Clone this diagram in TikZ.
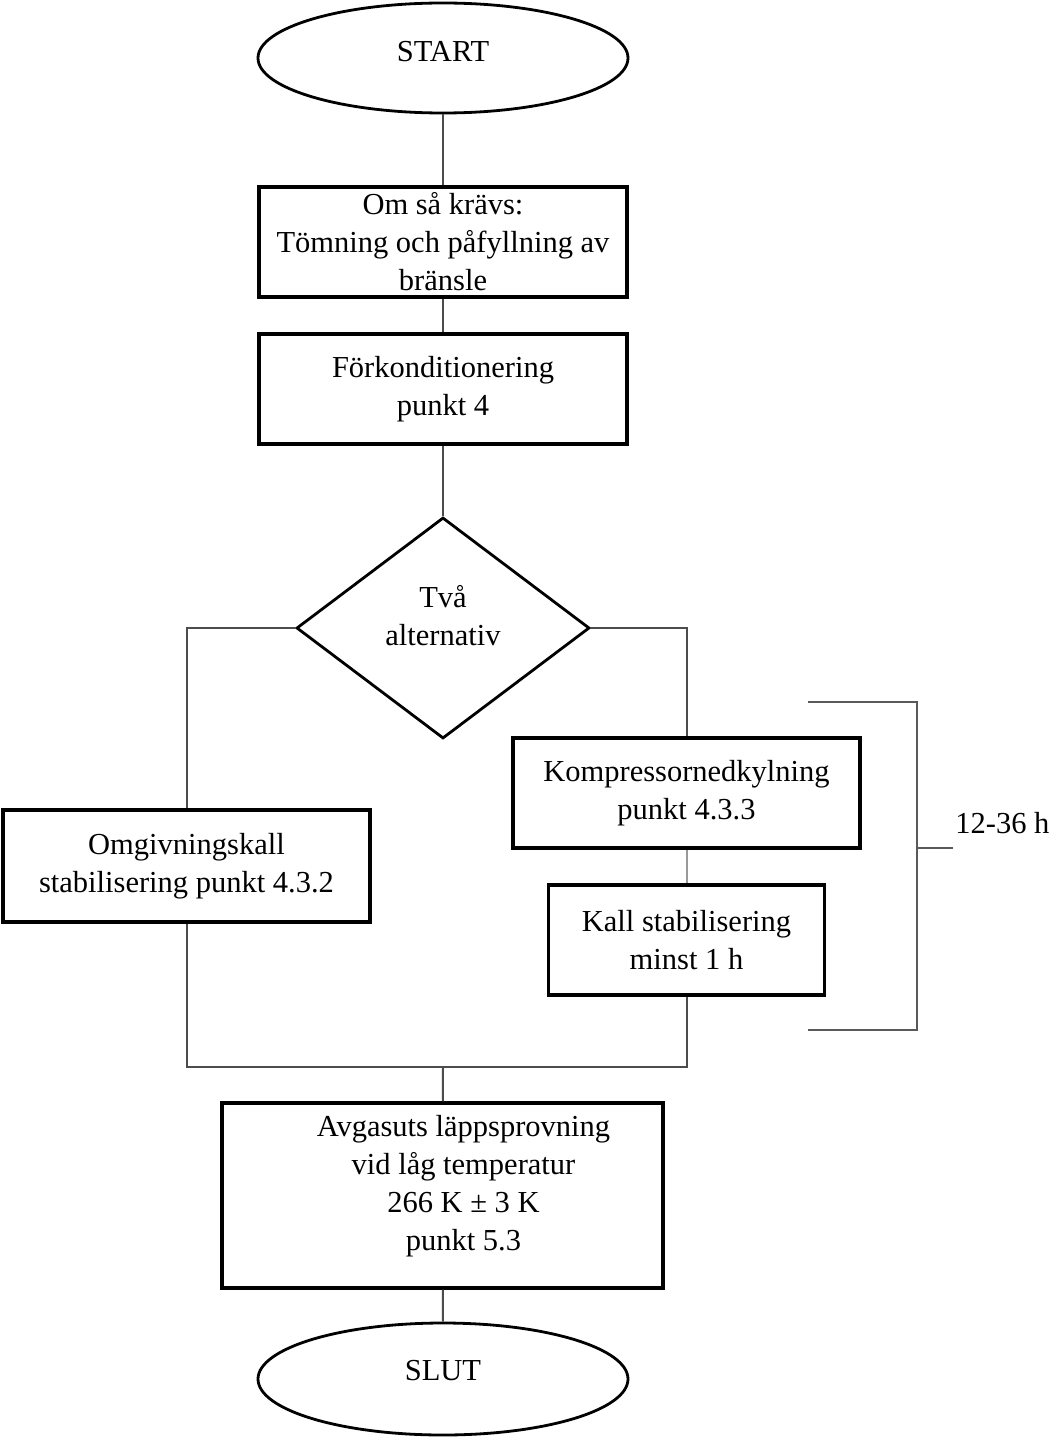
\documentclass[tikz,border=0pt]{standalone}
\usepackage{fontspec}
\setmainfont{Liberation Serif}
\usetikzlibrary{shapes.geometric}

\begin{document}
\begin{tikzpicture}[
        x=0.5pt, y=-0.5pt,
        every node/.style={font=\fontsize{15.25}{19}\selectfont, align=center, inner sep=0pt},
        box/.style={draw, rectangle, line width=1.6pt},
        terminal/.style={draw, ellipse, line width=1.4pt, minimum width=185pt, minimum height=55pt},
        decision/.style={draw, diamond, line width=1.4pt, minimum width=146.5pt, minimum height=110.5pt},
        link/.style={draw=black!70, line width=1pt},
        bracket/.style={draw=black!65, line width=1pt}
    ]

    \useasboundingbox (0,0) rectangle (1055,1439);

    % =====================================================
    % Main column
    % =====================================================
    \node[terminal] (start) at (443,58) {\raisebox{3pt}[\height][\depth]{START}};

    \node[box, minimum width=184pt, minimum height=55pt] (refuel) at (443,242)
    {Om så krävs:\\Tömning och påfyllning av\\bränsle};

    \node[box, minimum width=184pt, minimum height=55pt] (precond) at (443,389)
    {Förkonditionering\\punkt 4};

    \node[decision] (choice) at (443,628)
    {\raisebox{4.5pt}[\height][\depth]{\begin{tabular}{@{}c@{}}Två\\alternativ\end{tabular}}};

    % =====================================================
    % Two alternatives
    % =====================================================
    \node[box, minimum width=183.5pt, minimum height=56pt] (ambient) at (186.5,866)
    {Omgivningskall\\stabilisering punkt 4.3.2};

    \node[box, minimum width=173.5pt, minimum height=55pt] (compress) at (686.5,793)
    {Kompressornedkylning\\punkt 4.3.3};

    \node[box, minimum width=138pt, minimum height=55pt] (coldstab) at (686.5,940)
    {Kall stabilisering\\minst 1 h};

    % =====================================================
    % Test and end
    % =====================================================
    \node[box, minimum width=220.5pt, minimum height=92.5pt] (emission) at (442.5,1195.5)
    {\hspace*{21pt}\raisebox{5pt}[\height][\depth]{\begin{tabular}{@{}c@{}}Avgasuts läppsprovning\\vid låg temperatur\\266 K ± 3 K\\punkt 5.3\end{tabular}}};

    \node[terminal, minimum height=56pt] (stop) at (443,1379) {\raisebox{4pt}[\height][\depth]{SLUT}};

    % Connectors
    \draw[link] (start) -- (refuel);
    \draw[link] (refuel) -- (precond);
    \draw[link] (precond) -- (choice);
    \draw[link] (choice.west) -| (ambient.north);
    \draw[link] (choice.east) -| (compress.north);
    \draw[link, draw=black!40] (compress) -- (coldstab);

    \coordinate (merge) at (443,1067);
    \draw[link] (ambient.south) |- (merge) -| (coldstab.south);
    \draw[link] (merge) -- (emission);
    \draw[link] (emission) -- (stop);

    % Time bracket
    \coordinate (brtop) at (808,702);
    \coordinate (brbot) at (808,1030);
    \coordinate (brmid) at (917,848);
    \coordinate (brtip) at (953,848);
    \draw[bracket] (brtop) -| (brmid) |- (brbot);
    \draw[bracket] (brmid) -- (brtip);
    \node[anchor=base west] (span) at (955,833) {12-36 h};

    \end{tikzpicture}
\end{document}
